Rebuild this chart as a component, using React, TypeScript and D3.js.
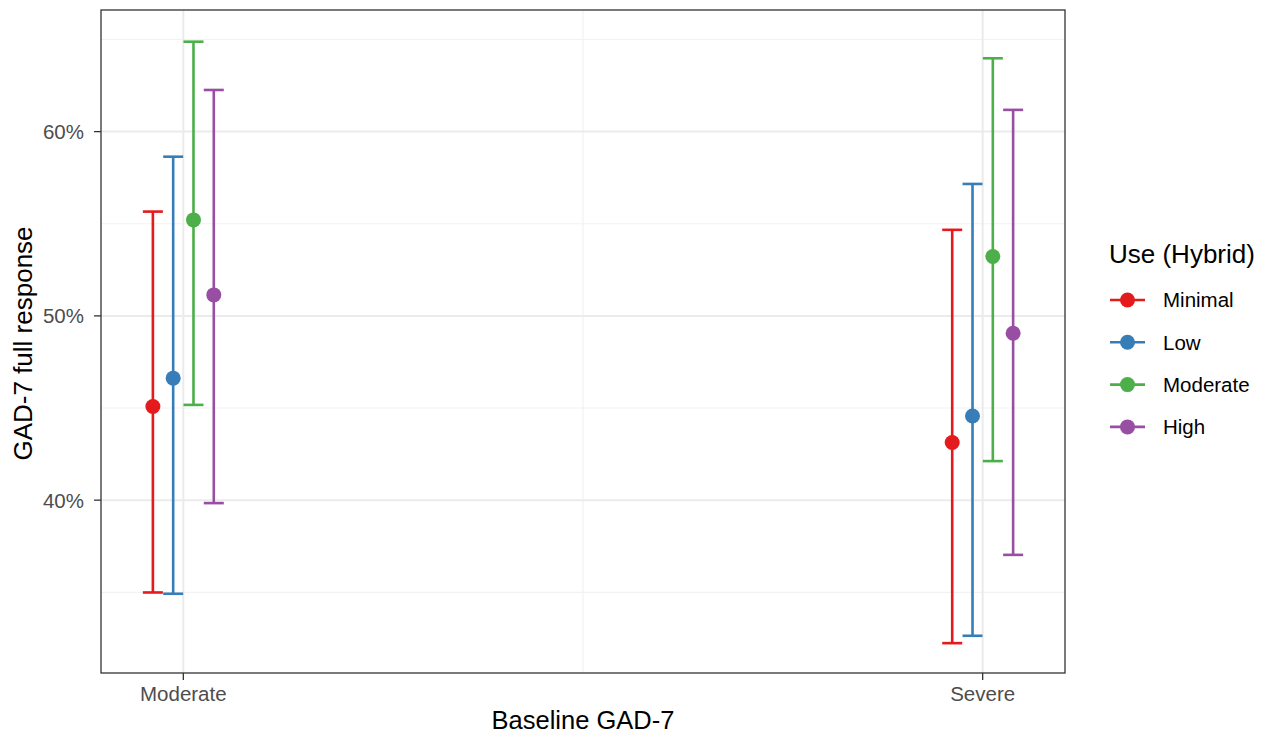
import React from "react";
import * as d3 from "d3";

const baselines = ["Moderate", "Severe"];
const useLevels = ["Minimal", "Low", "Moderate", "High"];
const colors = ["#E41A1C", "#377EB8", "#4DAF4A", "#984EA3"];
// estimates per baseline, per use level (%)
const estModerate = [45.08, 46.62, 55.21, 51.14];
const lowModerate = [34.99, 34.92, 45.17, 39.84];
const highModerate = [55.66, 58.64, 64.88, 62.26];
const estSevere = [43.13, 44.57, 53.22, 49.06];
const lowSevere = [32.24, 32.64, 42.12, 37.03];
const highSevere = [54.67, 57.16, 63.98, 61.18];
const yMajorTicks = [40, 50, 60];
const yMinorTicks = [35, 45, 55, 65];

const W = 1266, H = 735;
const P = { left: 101, right: 1065, top: 10, bottom: 673 };
const FONT = "'Liberation Sans', Arial, Helvetica, sans-serif";

export default function App() {
  const x = d3.scaleLinear().domain([1 - 0.103, 2 + 0.103]).range([P.left, P.right]);
  const y = d3.scaleLinear().domain([30.62, 66.6]).range([P.bottom, P.top]);
  const dodge = 0.0254;
  const groups = [
    { est: estModerate, lo: lowModerate, hi: highModerate },
    { est: estSevere, lo: lowSevere, hi: highSevere },
  ];
  const xMinor = [1.5];
  const cap = 10;
  return (
    <svg width={W} height={H} style={{ position: "absolute", left: 0, top: 0 }} fontFamily={FONT}>
      <rect x={0} y={0} width={W} height={H} fill="white" />
      {/* grid */}
      {yMinorTicks.map((t) => (
        <line key={"ym" + t} x1={P.left} x2={P.right} y1={y(t)} y2={y(t)} stroke="#F2F2F2" strokeWidth={1.2} />
      ))}
      {xMinor.map((t) => (
        <line key={"xm" + t} x1={x(t)} x2={x(t)} y1={P.top} y2={P.bottom} stroke="#F2F2F2" strokeWidth={1.2} />
      ))}
      {yMajorTicks.map((t) => (
        <line key={"yM" + t} x1={P.left} x2={P.right} y1={y(t)} y2={y(t)} stroke="#EBEBEB" strokeWidth={2} />
      ))}
      {baselines.map((b, i) => (
        <line key={"xM" + b} x1={x(i + 1)} x2={x(i + 1)} y1={P.top} y2={P.bottom} stroke="#EBEBEB" strokeWidth={2} />
      ))}
      {/* data */}
      {groups.map((g, gi) =>
        useLevels.map((u, ui) => {
          const cx = x(gi + 1 + (ui - 1.5) * dodge);
          return (
            <g key={gi + "-" + u} stroke={colors[ui]} strokeWidth={2.6}>
              <line x1={cx} x2={cx} y1={y(g.lo[ui])} y2={y(g.hi[ui])} />
              <line x1={cx - cap} x2={cx + cap} y1={y(g.lo[ui])} y2={y(g.lo[ui])} />
              <line x1={cx - cap} x2={cx + cap} y1={y(g.hi[ui])} y2={y(g.hi[ui])} />
              <circle cx={cx} cy={y(g.est[ui])} r={7.5} fill={colors[ui]} stroke="none" />
            </g>
          );
        })
      )}
      {/* panel border */}
      <rect x={P.left} y={P.top} width={P.right - P.left} height={P.bottom - P.top} fill="none" stroke="#333333" strokeWidth={1.3} />
      {/* y axis */}
      {yMajorTicks.map((t) => (
        <g key={"yt" + t}>
          <line x1={P.left - 7} x2={P.left} y1={y(t)} y2={y(t)} stroke="#333333" strokeWidth={1.3} />
          <text x={84} y={y(t)} dy="0.36em" textAnchor="end" fontSize={20.5} fill="#4D4D4D">
            {t + "%"}
          </text>
        </g>
      ))}
      {/* x axis */}
      {baselines.map((b, i) => (
        <g key={"xt" + b}>
          <line x1={x(i + 1)} x2={x(i + 1)} y1={P.bottom} y2={P.bottom + 7} stroke="#333333" strokeWidth={1.3} />
          <text x={x(i + 1)} y={701} textAnchor="middle" fontSize={20.5} fill="#4D4D4D">
            {b}
          </text>
        </g>
      ))}
      <text x={(P.left + P.right) / 2} y={729} textAnchor="middle" fontSize={25.5} fill="black">
        Baseline GAD-7
      </text>
      <text transform={`translate(32,${(P.top + P.bottom) / 2 + 2}) rotate(-90)`} textAnchor="middle" fontSize={26} fill="black">
        GAD-7 full response
      </text>
      {/* legend */}
      <text x={1109} y={263} fontSize={26} fill="black">Use (Hybrid)</text>
      {useLevels.map((u, ui) => {
        const ky = 300 + ui * 42.3;
        return (
          <g key={"lg" + u}>
            <line x1={1110} x2={1145} y1={ky} y2={ky} stroke={colors[ui]} strokeWidth={2.6} />
            <circle cx={1127.5} cy={ky} r={7.5} fill={colors[ui]} />
            <text x={1163} y={ky} dy="0.36em" fontSize={20.5} fill="black">
              {u}
            </text>
          </g>
        );
      })}
    </svg>
  );
}
